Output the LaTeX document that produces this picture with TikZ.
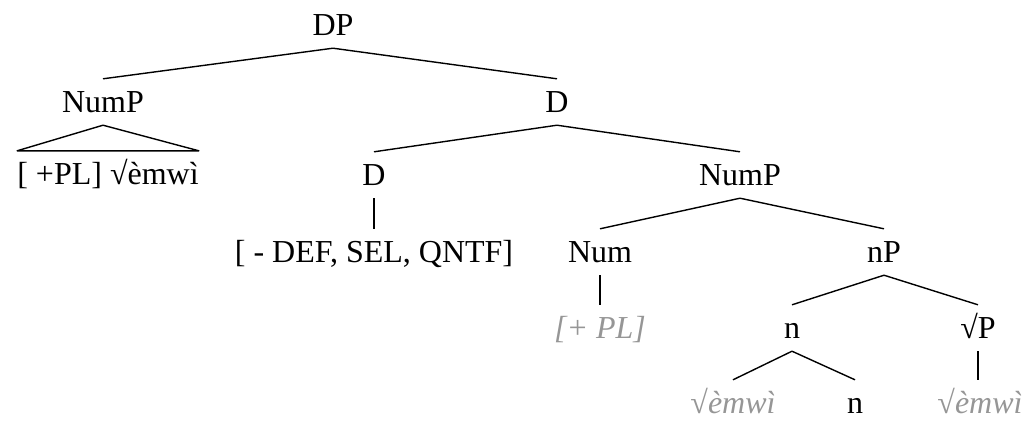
\documentclass[tikz,border=0pt]{standalone}
\usepackage{fontspec}
\setmainfont{Liberation Serif}
\definecolor{leafgray}{RGB}{150,150,150}
\begin{document}
\begin{tikzpicture}[x=1pt,y=-1pt,
  lbl/.style={inner xsep=0pt,inner ysep=0pt,text height=33pt,text depth=13pt,anchor=base,
    font=\fontsize{32}{38}\selectfont},
  gloss/.style={lbl,text=leafgray,font=\fontsize{32}{38}\selectfont\itshape},
  edge/.style={line width=1.4pt,line join=round}]
\useasboundingbox (0,0) rectangle (1025,421);
% labels, placed on their baselines
\node[lbl] (dp)    at (333,35)  {DP};
\node[lbl] (nump1) at (103,112) {NumP};
\node[lbl] (dbar)  at (557,112) {D};
\node[lbl] (leaf1) at (108,184) {[ +PL] √èmwì};
\node[lbl] (d)     at (374,185) {D};
\node[lbl] (nump2) at (740,185) {NumP};
\node[lbl] (feat)  at (374,262) {[ - DEF, SEL, QNTF]};
\node[lbl] (num)   at (600,262) {Num};
\node[lbl] (np)    at (884,262) {nP};
\node[gloss] (pl)  at (600,338) {[+ PL]};
\node[lbl] (n1)    at (792,338) {n};
\node[lbl] (rp)    at (978,338) {√P};
\node[gloss] (r1)  at (733,413) {√èmwì};
\node[lbl] (n2)    at (855,413) {n};
\node[gloss] (r2)  at (980,413) {√èmwì};
% branches
\draw[edge] (nump1.north) -- (dp.south) -- (dbar.north);
\draw[edge] (nump1.south) -- (leaf1.north west) -- (leaf1.north east) -- cycle;
\draw[edge] (d.north) -- (dbar.south) -- (nump2.north);
\draw[edge] (d.south) -- (d.south |- feat.north);
\draw[edge] (num.north) -- (nump2.south) -- (np.north);
\draw[edge] (num.south) -- (num.south |- pl.north);
\draw[edge] (n1.north) -- (np.south) -- (rp.north);
\draw[edge] (r1.north) -- (n1.south) -- (n2.north);
\draw[edge] (rp.south) -- (rp.south |- r2.north);
\end{tikzpicture}
\end{document}
